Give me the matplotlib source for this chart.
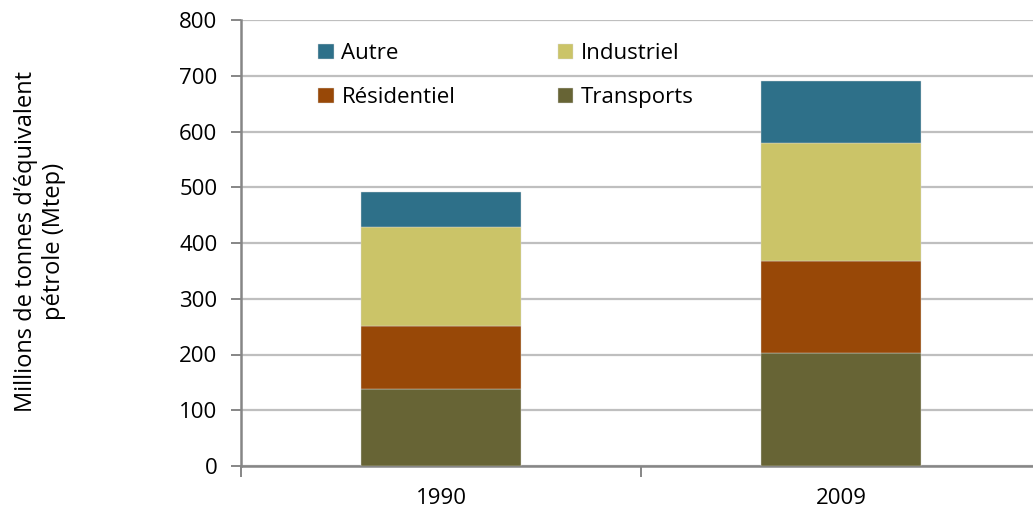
import numpy as np
import matplotlib
matplotlib.use("Agg")
import matplotlib.pyplot as plt

plt.rcParams['font.family'] = ['Open Sans', 'DejaVu Sans']

years = ["1990", "2009"]
transports = [139, 202]
residentiel = [112, 166]
industriel = [177, 212]
autre = [63, 111]

colors = {"Transports": "#676435", "Résidentiel": "#984807",
          "Industriel": "#CBC468", "Autre": "#2E7089"}

fs = 16
fig = plt.figure(figsize=(10.33, 5.13), dpi=100)
ax = fig.add_axes([241/1033, 1-466/513, 800/1033, 446/513])

x = np.arange(len(years))
w = 0.4
bottom = np.zeros(len(years))
bars = {}
for name, vals in [("Transports", transports), ("Résidentiel", residentiel),
                   ("Industriel", industriel), ("Autre", autre)]:
    bars[name] = ax.bar(x, vals, w, bottom=bottom, color=colors[name],
                        edgecolor="#d9d9d9", linewidth=0.3, zorder=3)
    bottom += np.array(vals)

ax.set_xlim(-0.5, 1.5)
ax.set_ylim(0, 800)
ax.set_yticks(range(0, 801, 100))
ax.yaxis.grid(True, color="#BFBFBF", linewidth=1.6, zorder=0)
ax.set_axisbelow(True)

ax.set_xticks(x)
ax.set_xticklabels(years)
ax.set_xticks([-0.5, 0.5, 1.5], minor=True)
ax.tick_params(axis="x", which="major", length=0, pad=16, labelsize=fs)
ax.tick_params(axis="x", which="minor", length=8, color="#868686", width=1.4)
ax.tick_params(axis="y", length=7, color="#868686", width=1.4, pad=10, labelsize=fs)

for s in ["top", "right"]:
    ax.spines[s].set_visible(False)
for s in ["left", "bottom"]:
    ax.spines[s].set_color("#868686")
    ax.spines[s].set_linewidth(1.8)

fig.text(40/1033, 1-241/513, "Millions de tonnes d\u2019\u00e9quivalent\np\u00e9trole (Mtep)",
         rotation=90, ha="center", va="center", fontsize=17, linespacing=1.2,
         multialignment="center")

handles = [bars["Autre"], bars["Résidentiel"], bars["Industriel"], bars["Transports"]]
labels = ["Autre", "Résidentiel", "Industriel", "Transports"]
ax.legend(handles, labels, ncol=2, frameon=False, fontsize=fs,
          loc="upper left", bbox_to_anchor=(66/800, 1-12/446),
          handlelength=0.7, handleheight=0.7, handletextpad=0.35,
          labelspacing=1.05, columnspacing=4.6, borderpad=0)

fig.savefig("out.png", dpi=100)
